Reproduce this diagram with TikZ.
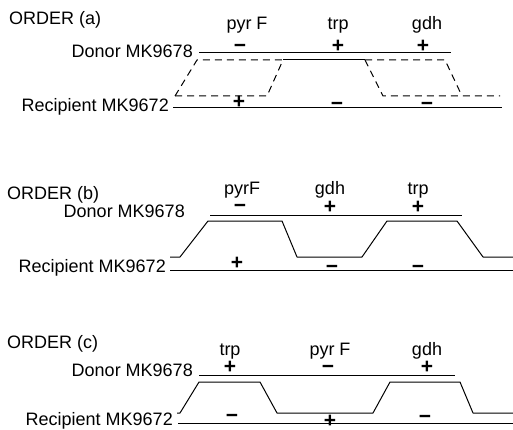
\documentclass[tikz,border=0pt]{standalone}
\usepackage{fontspec}
\setmainfont{Liberation Sans}
\usetikzlibrary{positioning}

\begin{document}
\begin{tikzpicture}[
    x=1pt, y=-1pt,
    every node/.style={font=\fontsize{18}{20}\selectfont, inner sep=0pt},
    title/.style={anchor=base west},
    strain/.style={anchor=base east},
    gene/.style={anchor=base},
    sgn/.style={anchor=center, text height=12.4pt, text depth=-2.5pt,
        font=\fontsize{21}{22}\selectfont\bfseries},
    chrom/.style={line width=1pt},
    xover/.style={line width=1pt, line join=round},
    xdash/.style={xover, dash pattern=on 7pt off 5pt},
]
    \useasboundingbox (0,0) rectangle (513,430);

    % ---------------- ORDER (a) ----------------
    \node[title] (ta) at (9,25) {ORDER (a)};
    \node[gene] (ga1) at (247,30) {pyr F};
    \node[gene] (ga2) at (338,30) {trp};
    \node[gene] (ga3) at (427,30) {gdh};

    \coordinate (da-l) at (199,53);  \coordinate (da-r) at (451,53);
    \coordinate (ra-l) at (173,108); \coordinate (ra-r) at (502,108);
    \draw[chrom] (da-l) -- (da-r);
    \draw[chrom] (ra-l) -- (ra-r);
    \node[strain] (dna) at (193,58)  {Donor MK9678};
    \node[strain] (rca) at (169,112) {Recipient MK9672};

    \node[sgn] (sa1) at (240,46) {−};
    \node[sgn] (sa2) at (338,46) {+};
    \node[sgn] (sa3) at (423,46) {+};
    \node[sgn] (sa4) at (239,102) {+};
    \node[sgn] (sa5) at (337,104) {−};
    \node[sgn] (sa6) at (427,104) {−};

    % two exchanges sharing the trp segment
    \draw[xdash] (175,96) -- (197,60) -- (283,60);
    \draw[xdash] (175,96) -- (267,96) -- (283,60);
    \draw[xover] (283,60) -- (365,60);
    \draw[xdash] (365,60) -- (383,96) -- (500,96);
    \draw[xdash] (365,60) -- (445,60) -- (462,96);

    % ---------------- ORDER (b) ----------------
    \node[title] (tb) at (7,200) {ORDER (b)};
    \node[gene] (gb1) at (242,195) {pyrF};
    \node[gene] (gb2) at (330,195) {gdh};
    \node[gene] (gb3) at (418,195) {trp};

    \coordinate (db-l) at (210,215); \coordinate (db-r) at (462,215);
    \coordinate (rb-l) at (170,270); \coordinate (rb-r) at (513,270);
    \draw[chrom] (db-l) -- (db-r);
    \draw[chrom] (rb-l) -- (rb-r);
    \node[strain] (dnb) at (185,218) {Donor MK9678};
    \node[strain] (rcb) at (166,272) {Recipient MK9672};

    \node[sgn] (sb1) at (240,206) {−};
    \node[sgn] (sb2) at (330,207) {+};
    \node[sgn] (sb3) at (418,207) {+};
    \node[sgn] (sb4) at (237,263) {+};
    \node[sgn] (sb5) at (332,267) {−};
    \node[sgn] (sb6) at (418,267) {−};

    \draw[xover] (170,257) -- (180,257) -- (208,221) -- (282,221)
        -- (297,257) -- (362,257) -- (387,221) -- (457,221)
        -- (483,257) -- (513,257);

    % ---------------- ORDER (c) ----------------
    \node[title] (tc) at (7,348) {ORDER (c)};
    \node[gene] (gc1) at (230,355) {trp};
    \node[gene] (gc2) at (330,355) {pyr F};
    \node[gene] (gc3) at (427,355) {gdh};

    \coordinate (dc-l) at (199,375); \coordinate (dc-r) at (455,375);
    \coordinate (rc-l) at (178,423); \coordinate (rc-r) at (513,423);
    \draw[chrom] (dc-l) -- (dc-r);
    \draw[chrom] (rc-l) -- (rc-r);
    \node[strain] (dnc) at (193,376) {Donor MK9678};
    \node[strain] (rcc) at (173,425) {Recipient MK9672};

    \node[sgn] (sc1) at (230,367) {+};
    \node[sgn] (sc2) at (328,367) {−};
    \node[sgn] (sc3) at (427,367) {+};
    \node[sgn] (sc4) at (232,416) {−};
    \node[sgn] (sc5) at (330,421) {+};
    \node[sgn] (sc6) at (425,417) {−};

    \draw[xover] (177,413) -- (180,413) -- (199,382) -- (260,382)
        -- (277,413) -- (373,413) -- (390,382) -- (460,382)
        -- (473,413) -- (513,413);
\end{tikzpicture}
\end{document}
